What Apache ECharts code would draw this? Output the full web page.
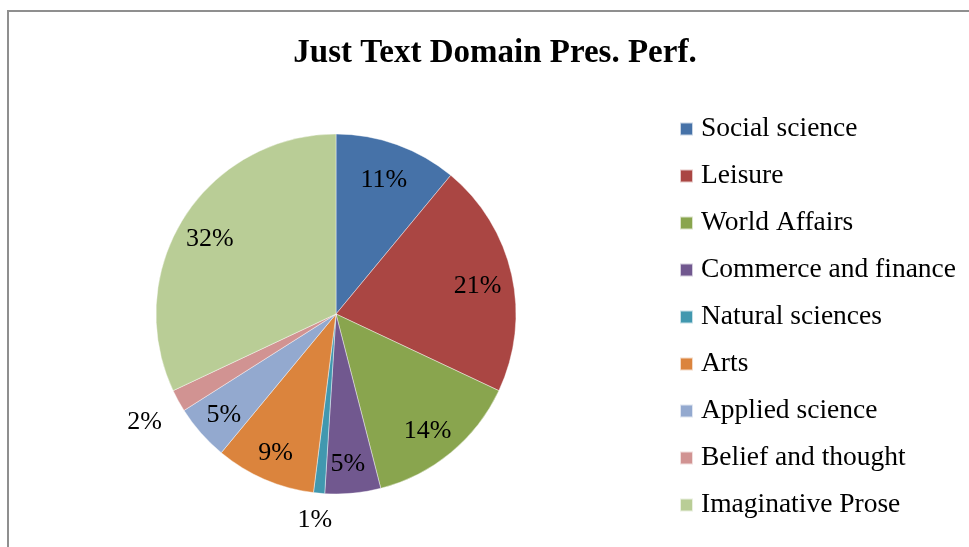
<!DOCTYPE html>
<html>
<head>
<meta charset="utf-8">
<title>Just Text Domain Pres. Perf.</title>
<script src="https://cdn.jsdelivr.net/npm/echarts@6/dist/echarts.min.js"></script>
<style>
  html, body { margin: 0; padding: 0; background: #ffffff; }
  #frame {
    position: absolute; left: 7px; top: 10px; width: 1000px; height: 600px;
    border-left: 2px solid #8f8f8f; border-top: 2px solid #8f8f8f;
  }
  #chart { position: absolute; left: 0; top: 0; width: 969px; height: 547px; }
</style>
</head>
<body>
<div id="frame"></div>
<div id="chart"></div>
<script>
// Share of each text domain (percent)
const categories = [
  'Social science', 'Leisure', 'World Affairs', 'Commerce and finance',
  'Natural sciences', 'Arts', 'Applied science', 'Belief and thought',
  'Imaginative Prose'
];
const shares = [11, 21, 14, 5, 1, 9, 5, 2, 32];
const sliceColors = [
  '#4672A8', '#AA4643', '#89A54E', '#71588F',
  '#4198AF', '#DB843D', '#93A9CF', '#D19392', '#B9CD96'
];
// slices too thin for an inside label get theirs placed just outside the pie
const outsideLabelNames = ['Natural sciences', 'Belief and thought'];

const serif = '"Liberation Serif", "Times New Roman", serif';
const center = [336, 314];
// percentage labels sit slightly below the geometric slice midpoints
const labelCenter = [334, 318];
const R = 180;

const pieData = categories.map((name, i) => ({
  name, value: shares[i], itemStyle: { color: sliceColors[i] }
}));

// transparent ring whose inside labels sit midway between its two radii
function labelRing(radius, showFn) {
  return {
    type: 'pie',
    center: labelCenter, radius,
    startAngle: 90, clockwise: true,
    silent: true,
    legendHoverLink: false,
    itemStyle: { color: 'rgba(0,0,0,0)', borderWidth: 0 },
    labelLine: { show: false },
    emphasis: { disabled: true },
    data: categories.map((name, i) => ({
      name, value: shares[i],
      label: { show: showFn(name) }
    })),
    label: {
      position: 'inside',
      formatter: p => Math.round(p.percent) + '%',
      color: '#000000',
      fontFamily: serif,
      fontSize: 26
    }
  };
}

const chart = echarts.init(document.getElementById('chart'), null, { renderer: 'canvas' });
chart.setOption({
  animation: false,
  backgroundColor: 'transparent',
  title: {
    text: 'Just Text Domain Pres. Perf.',
    left: 490, top: 32, textAlign: 'center',
    textStyle: { fontFamily: serif, fontWeight: 'bold', fontSize: 33, color: '#000000' }
  },
  legend: {
    orient: 'vertical',
    left: 674, top: 110,
    icon: 'rect', itemWidth: 13, itemHeight: 13, itemGap: 19,
    selectedMode: false,
    data: categories.map((name, i) => ({ name, itemStyle: { color: sliceColors[i] } })),
    textStyle: {
      fontFamily: serif, fontSize: 27.5, color: '#000000',
      padding: [0, 0, 0, 3]
    }
  },
  series: [
    {
      type: 'pie',
      center, radius: [0, R],
      startAngle: 90, clockwise: true,
      silent: true,
      itemStyle: { borderColor: 'rgba(255,255,255,0.7)', borderWidth: 0.6 },
      label: { show: false },
      labelLine: { show: false },
      data: pieData
    },
    labelRing([R * 0.6, R], n => !outsideLabelNames.includes(n)),
    labelRing([R * 0.97, R * 1.25], n => n === 'Natural sciences'),
    labelRing([R * 1.05, R * 1.32], n => n === 'Belief and thought')
  ]
});
</script>
</body>
</html>
